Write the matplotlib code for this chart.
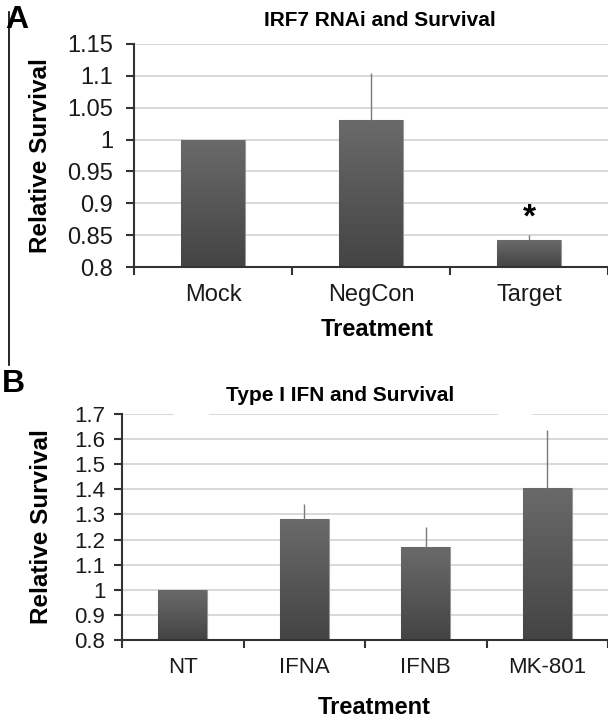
import numpy as np
import matplotlib
matplotlib.use("Agg")
import matplotlib.pyplot as plt
from matplotlib.lines import Line2D
from matplotlib.ticker import FuncFormatter
from matplotlib.colors import LinearSegmentedColormap

plt.rcParams["font.family"] = ["Liberation Sans", "DejaVu Sans"]

# panel A data
a_cats = ["Mock", "NegCon", "Target"]
a_vals = [1.0, 1.031, 0.842]
a_err = [0.0, 0.073, 0.008]
a_ticks = [0.8, 0.85, 0.9, 0.95, 1.0, 1.05, 1.1, 1.15]

# panel B data
b_cats = ["NT", "IFNA", "IFNB", "MK-801"]
b_vals = [1.0, 1.283, 1.169, 1.407]
b_err = [0.0, 0.057, 0.082, 0.228]
b_ticks = [0.8, 0.9, 1.0, 1.1, 1.2, 1.3, 1.4, 1.5, 1.6, 1.7]

W, H = 608, 717
fig = plt.figure(figsize=(W / 100, H / 100), dpi=100)
fmt = FuncFormatter(lambda v, p: "%g" % round(v, 3))
grad = np.linspace(0, 1, 100).reshape(-1, 1)
bar_cmap = LinearSegmentedColormap.from_list("bar", ["#6a6a6a", "#444444"])


def px_axes(left, top, bottom):
    return fig.add_axes([left / W, 1 - bottom / H, 1 - left / W, (bottom - top) / H])


def panel(ax, cats, vals, err, ticks, tsize_x, tsize_y, ypad, xpad, full_top=True):
    n = len(cats)
    x = np.arange(n)
    bars = ax.bar(x, np.array(vals) - ticks[0], bottom=ticks[0], width=0.4,
                  color="#555555", edgecolor="#9a9a9a", linewidth=0.8, zorder=2)
    for b in bars:
        bx, by = b.get_x(), b.get_y()
        im = ax.imshow(grad, extent=[bx, bx + b.get_width(), by, by + b.get_height()],
                       cmap=bar_cmap, aspect="auto", origin="upper", zorder=2.1)
        im.set_clip_path(b)
    ax.errorbar(x, vals, yerr=[np.zeros(n), err], fmt="none", ecolor="#7a7a7a",
                elinewidth=1.0, capsize=0, zorder=3)
    ax.set_xlim(-0.5, n - 0.5)
    ax.set_ylim(ticks[0], ticks[-1])
    ax.set_yticks(ticks)
    ax.yaxis.set_major_formatter(fmt)
    ax.set_xticks(x)
    ax.set_xticklabels(cats)
    ax.set_xticks(np.arange(n + 1) - 0.5, minor=True)
    ax.tick_params(axis="x", which="major", length=0, labelsize=tsize_x, pad=xpad,
                   labelcolor="#1a1a1a")
    ax.tick_params(axis="x", which="minor", length=6, width=1.5, color="#333333")
    ax.tick_params(axis="y", length=6, width=1.5, color="#333333",
                   labelsize=tsize_y, pad=ypad, labelcolor="#1a1a1a")
    for s in ["top", "right"]:
        ax.spines[s].set_visible(False)
    for s in ["left", "bottom"]:
        ax.spines[s].set_color("#333333")
        ax.spines[s].set_linewidth(1.5)
    ax.set_axisbelow(True)
    for t in ticks[1:-1]:
        ax.axhline(t, color="#d6d6d6", lw=1.3, zorder=0)
    if full_top:
        ax.axhline(ticks[-1], color="#d6d6d6", lw=1.3, zorder=0)
    return x


# panel A
axA = px_axes(134, 44, 267)
xa = panel(axA, a_cats, a_vals, a_err, a_ticks, 17, 17, 9, 12)
axA.text(xa[2], a_vals[2] + a_err[2] + 0.003, "*", ha="center", va="bottom",
         fontsize=24, fontweight="bold")
axA.set_xlabel("Treatment", fontsize=17, fontweight="bold")
axA.xaxis.label.set_va("center")
axA.xaxis.set_label_coords(0.513, -(330 - 267) / 223)
axA.set_ylabel("Relative Survival", fontsize=17.5, fontweight="bold")
axA.yaxis.label.set_va("center")
axA.yaxis.set_label_coords((41 - 134) / 474, 0.5)
fig.text(380 / W, 1 - 20 / H, "IRF7 RNAi and Survival", ha="center", va="center",
         fontsize=15, fontweight="bold")

# panel B
axB = px_axes(122, 414, 640)
xb = panel(axB, b_cats, b_vals, b_err, b_ticks, 16, 16, 6, 12, full_top=False)
# top gridline is broken around the title in the original
for a0, a1 in [(0.0, 0.105), (0.181, 0.772), (0.846, 1.0)]:
    axB.axhline(b_ticks[-1], xmin=a0, xmax=a1, color="#d6d6d6", lw=1.3, zorder=0)
axB.set_xlabel("Treatment", fontsize=17, fontweight="bold")
axB.xaxis.label.set_va("center")
axB.xaxis.set_label_coords(0.52, -(707 - 640) / 226)
axB.set_ylabel("Relative Survival", fontsize=17.5, fontweight="bold")
axB.yaxis.label.set_va("center")
axB.yaxis.set_label_coords((41 - 122) / 486, 0.5)
fig.text(340 / W, 1 - 395 / H, "Type I IFN and Survival", ha="center", va="center",
         fontsize=15, fontweight="bold")

# panel letters and left rule
fig.text(5 / W, 1 - 20 / H, "A", ha="left", va="center", fontsize=23, fontweight="bold")
fig.text(2 / W, 1 - 384 / H, "B", ha="left", va="center", fontsize=23, fontweight="bold")
fig.add_artist(Line2D([9 / W, 9 / W], [1 - 12 / H, 1 - 365 / H], color="black", lw=1.2))

fig.savefig("out.png", dpi=100)
